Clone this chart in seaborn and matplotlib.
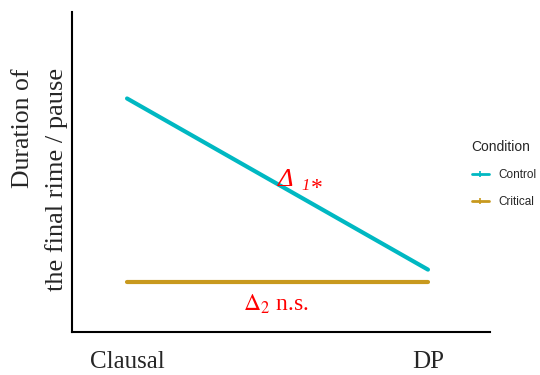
import pandas as pd
import matplotlib.pyplot as plt
import seaborn as sns
from matplotlib.lines import Line2D

# valores (escala arbitrária 0-10)
positions = ['Clausal', 'DP']
control = [7.3, 1.95]
critical = [1.55, 1.55]
conditions = ['Control', 'Critical']
colors = ['#00B8C2', '#C8991E']

df = pd.DataFrame({
    'Position': positions * 2,
    'Duration': control + critical,
    'Condition': ['Control'] * 2 + ['Critical'] * 2,
})

sns.set_style('white')
plt.rcParams['font.family'] = ['Liberation Serif', 'DejaVu Serif']
plt.rcParams['mathtext.fontset'] = 'stix'

fig = plt.figure(figsize=(5.4, 3.75), dpi=100)
ax = fig.add_axes([0.1333, 0.1147, 0.774, 0.853])

sns.lineplot(data=df, x='Position', y='Duration', hue='Condition',
             palette=dict(zip(conditions, colors)), linewidth=3,
             legend=False, ax=ax)

ax.set_xlim(-0.183, 1.206)
ax.set_ylim(0, 10)
ax.set_yticks([])
ax.set_xticks([0, 1])
ax.set_xticklabels(positions, fontsize=18)
ax.tick_params(axis='x', length=0, pad=14)
ax.set_xlabel('')
ax.set_ylabel('')
for side in ['top', 'right']:
    ax.spines[side].set_visible(False)
for side in ['left', 'bottom']:
    ax.spines[side].set_color('black')
    ax.spines[side].set_linewidth(1.5)

# rótulo do eixo y em duas linhas (alinhadas no topo)
fig.text(23 / 540, 1 - 68 / 375, 'Duration of', rotation=90,
         ha='center', va='top', fontsize=18.5)
fig.text(57 / 540, 1 - 68 / 375, 'the final rime / pause', rotation=90,
         ha='center', va='top', fontsize=19)

# anotações das diferenças
ax.text(0.50, 4.55, 'Δ', color='red', fontsize=19, fontstyle='italic')
ax.text(0.578, 4.45, '1', color='red', fontsize=12, fontstyle='italic')
ax.text(0.61, 4.3, '*', color='red', fontsize=17)
ax.text(0.385, 0.66, r'$\Delta_2$ n.s.', color='red', fontsize=17)

# legenda
handles = [Line2D([], [], color=c, linewidth=2, marker='|', markersize=4,
                  markeredgewidth=1.2) for c in colors]
leg = fig.legend(handles, conditions, title='Condition', loc='upper left',
                 bbox_to_anchor=(461 / 540, 1 - 129 / 375), frameon=False,
                 handlelength=1.5, handletextpad=0.8, labelspacing=1.3,
                 prop={'family': 'Liberation Sans', 'size': 8.5})
leg.get_title().set_fontfamily('Liberation Sans')
leg.get_title().set_fontsize(10)
leg._legend_box.align = 'left'

plt.savefig('out.png')
